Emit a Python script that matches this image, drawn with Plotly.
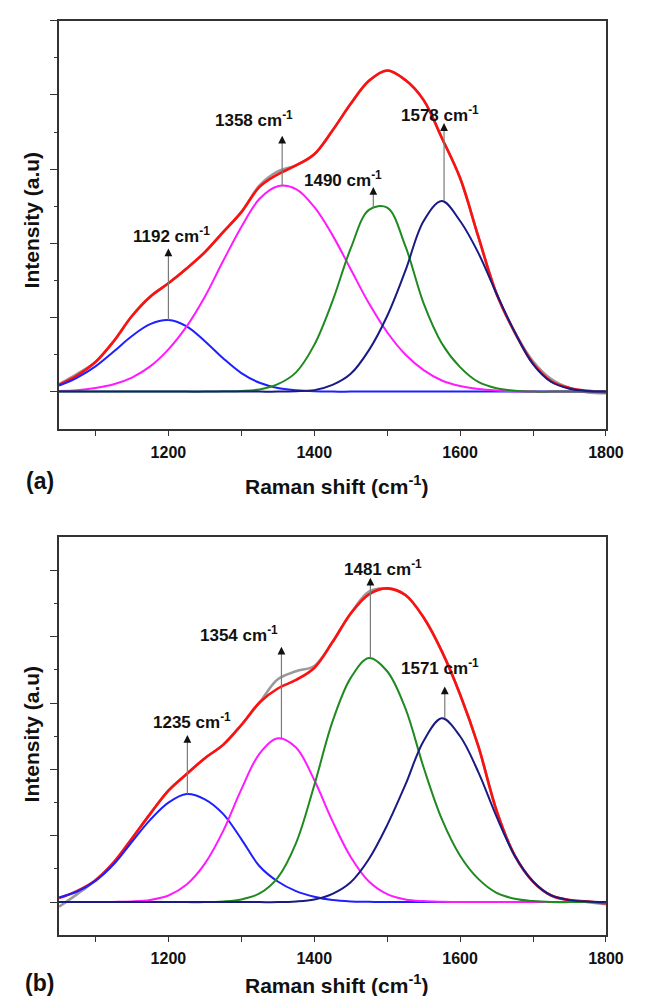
import plotly.graph_objects as go

# ---------------- data ----------------
raman_shift = [1050, 1075, 1100, 1125, 1150, 1175, 1200, 1225, 1250, 1275, 1300,
               1325, 1350, 1375, 1400, 1425, 1450, 1475, 1500, 1525, 1550, 1575,
               1600, 1625, 1650, 1675, 1700, 1725, 1750, 1775, 1800]

# panel (a)
a_data = [0.10, 0.24, 0.40, 0.68, 1.02, 1.28, 1.46, 1.66, 1.88, 2.15, 2.42,
          2.78, 2.97, 3.05, 3.20, 3.52, 3.88, 4.19, 4.33, 4.20, 3.93, 3.42,
          2.88, 2.09, 1.32, 0.80, 0.41, 0.17, 0.05, -0.01, -0.02]
a_fit = [0.09, 0.22, 0.40, 0.68, 1.02, 1.28, 1.46, 1.66, 1.88, 2.15, 2.42,
         2.76, 2.93, 3.05, 3.20, 3.52, 3.88, 4.19, 4.33, 4.20, 3.93, 3.42,
         2.88, 2.09, 1.32, 0.80, 0.38, 0.14, 0.05, 0.01, -0.01]
a_p1 = [0.08, 0.19, 0.34, 0.54, 0.75, 0.91, 0.965, 0.88, 0.68, 0.45, 0.25,
        0.12, 0.05, 0.02, 0.005, 0, 0, 0, 0, 0, 0, 0,
        0, 0, 0, 0, 0, 0, 0, 0, 0]
a_p2 = [0.01, 0.02, 0.05, 0.10, 0.19, 0.34, 0.57, 0.88, 1.28, 1.76, 2.22,
        2.60, 2.77, 2.73, 2.49, 2.11, 1.65, 1.19, 0.80, 0.50, 0.29, 0.15,
        0.075, 0.035, 0.015, 0.005, 0, 0, 0, 0, 0]
a_p3 = [0, 0, 0, 0, 0, 0, 0, 0, 0, 0.005, 0.01,
        0.03, 0.10, 0.26, 0.63, 1.22, 1.93, 2.45, 2.48, 1.96, 1.19, 0.65,
        0.33, 0.13, 0.045, 0.012, 0, 0, 0, 0, 0]
a_p4 = [0, 0, 0, 0, 0, 0, 0, 0, 0, 0, 0,
        0, 0, 0.005, 0.02, 0.09, 0.24, 0.56, 1.02, 1.63, 2.30, 2.57,
        2.30, 1.87, 1.32, 0.80, 0.37, 0.13, 0.04, 0.01, 0]
a_labels = ["1192", "1358", "1490", "1578"]
a_arrow_x = [1200, 1356, 1481, 1578]
a_arrow_tip = [1.93, 3.45, 2.76, 3.62]
a_label_x = [1204, 1318, 1440, 1572]
a_label_y = [2.11, 3.68, 2.87, 3.74]

# panel (b)
b_data = [-0.07, 0.12, 0.33, 0.60, 0.96, 1.33, 1.68, 1.93, 2.17, 2.37, 2.67,
          3.01, 3.36, 3.48, 3.56, 3.92, 4.35, 4.68, 4.73, 4.63, 4.29, 3.78,
          3.13, 2.35, 1.38, 0.70, 0.31, 0.10, 0.03, 0.0, -0.03]
b_fit = [0.06, 0.17, 0.33, 0.60, 0.96, 1.33, 1.68, 1.93, 2.17, 2.37, 2.67,
         3.01, 3.22, 3.35, 3.53, 3.92, 4.35, 4.64, 4.73, 4.63, 4.29, 3.78,
         3.13, 2.35, 1.38, 0.70, 0.31, 0.10, 0.03, 0.01, -0.02]
b_p1 = [0.07, 0.16, 0.32, 0.57, 0.91, 1.24, 1.50, 1.63, 1.55, 1.33, 0.95,
        0.54, 0.31, 0.165, 0.08, 0.03, 0.01, 0.005, 0, 0, 0, 0,
        0, 0, 0, 0, 0, 0, 0, 0, 0]
b_p2 = [0, 0, 0, 0.003, 0.01, 0.033, 0.10, 0.265, 0.58, 1.07, 1.70,
        2.24, 2.47, 2.33, 1.84, 1.22, 0.68, 0.31, 0.12, 0.04, 0.015, 0.005,
        0, 0, 0, 0, 0, 0, 0, 0, 0]
b_p3 = [0, 0, 0, 0, 0, 0, 0, 0, 0, 0.01, 0.04,
        0.13, 0.37, 0.89, 1.76, 2.72, 3.38, 3.68, 3.48, 2.92, 2.03, 1.25,
        0.70, 0.35, 0.14, 0.05, 0.015, 0, 0, 0, 0]
b_p4 = [0, 0, 0, 0, 0, 0, 0, 0, 0, 0, 0,
        0, 0, 0.01, 0.04, 0.125, 0.30, 0.65, 1.16, 1.77, 2.43, 2.77,
        2.50, 1.96, 1.29, 0.70, 0.31, 0.10, 0.03, 0.01, 0]
b_labels = ["1235", "1354", "1481", "1571"]
b_arrow_x = [1226, 1355, 1477, 1579]
b_arrow_tip = [2.52, 3.85, 4.89, 3.25]
b_label_x = [1232, 1297, 1494, 1573]
b_label_y = [2.73, 4.04, 5.03, 3.55]

x_major = [1200, 1400, 1600, 1800]
x_minor = [1100, 1300, 1500, 1700]
y_major = [0, 1, 2, 3, 4, 5]
y_minor = [0.5, 1.5, 2.5, 3.5, 4.5]

# ---------------- styling ----------------
FONT = "Liberation Sans, Arial, sans-serif"
C_DATA = "#9a9a9a"
C_FIT = "#ff1010"
C_P = ["#1f1fff", "#ff1aff", "#1f8a1f", "#1a1a85"]
AX = "#333333"

fig = go.Figure()


def add_panel(xa, ya, data, fit, comps):
    fig.add_trace(go.Scatter(x=raman_shift, y=data, mode="lines",
                             line=dict(color=C_DATA, width=2.6, shape="spline", smoothing=1),
                             xaxis=xa, yaxis=ya, hoverinfo="skip"))
    fig.add_trace(go.Scatter(x=raman_shift, y=fit, mode="lines",
                             line=dict(color=C_FIT, width=2.6, shape="spline", smoothing=1),
                             xaxis=xa, yaxis=ya))
    for comp, col in zip(comps, C_P):
        fig.add_trace(go.Scatter(x=raman_shift, y=comp, mode="lines",
                                 line=dict(color=col, width=2, shape="spline", smoothing=1),
                                 xaxis=xa, yaxis=ya))


add_panel("x", "y", a_data, a_fit, [a_p1, a_p2, a_p3, a_p4])
add_panel("x2", "y2", b_data, b_fit, [b_p1, b_p2, b_p3, b_p4])

annotations = []
shapes = []


def add_arrows(xr, yr, comps, labels, arrow_x, tips, lx, ly):
    for comp, lab, axx, tip, tx, ty in zip(comps, labels, arrow_x, tips, lx, ly):
        base = max(comp)
        shapes.append(dict(type="line", xref=xr, yref=yr, x0=axx, x1=axx,
                           y0=base, y1=tip - 0.08,
                           line=dict(color="#7a7a7a", width=1.2)))
        annotations.append(dict(xref=xr, yref=yr, axref=xr, ayref=yr,
                                x=axx, y=tip, ax=axx, ay=tip - 0.1, text="",
                                showarrow=True, arrowhead=2, arrowsize=1.3,
                                arrowwidth=1.2, arrowcolor="#111111"))
        annotations.append(dict(xref=xr, yref=yr, x=tx, y=ty,
                                text="<b>%s cm<sup>-1</sup></b>" % lab,
                                showarrow=False, xanchor="center", yanchor="middle",
                                font=dict(family=FONT, size=17, color="#111111")))


add_arrows("x", "y", [a_p1, a_p2, a_p3, a_p4], a_labels, a_arrow_x, a_arrow_tip,
           a_label_x, a_label_y)
add_arrows("x2", "y2", [b_p1, b_p2, b_p3, b_p4], b_labels, b_arrow_x, b_arrow_tip,
           b_label_x, b_label_y)

# axis titles / panel letters
for ytitle_c, xtitle_c, letter_c, letter in [(0.787, 0.5211, 0.5251, "(a)"),
                                              (0.271, 0.0201, 0.0211, "(b)")]:
    annotations.append(dict(xref="paper", yref="paper", x=0.037, y=ytitle_c,
                            text="<b>Intensity (a.u)</b>", textangle=-90,
                            showarrow=False, xanchor="center", yanchor="middle",
                            font=dict(family=FONT, size=21, color="#111111")))
    annotations.append(dict(xref="paper", yref="paper", x=0.5216, y=xtitle_c,
                            text="<b>Raman shift (cm<sup>-1</sup>)</b>",
                            showarrow=False, xanchor="center", yanchor="middle",
                            font=dict(family=FONT, size=21, color="#111111")))
    annotations.append(dict(xref="paper", yref="paper", x=0.0502, y=letter_c,
                            text="<b>%s</b>" % letter,
                            showarrow=False, xanchor="center", yanchor="middle",
                            font=dict(family=FONT, size=23, color="#111111")))


def xaxis_cfg(anchor):
    return dict(domain=[0.0810, 0.9491], range=[1050, 1800], anchor=anchor,
                tickvals=x_major, ticks="outside", ticklen=5, tickwidth=1.3,
                tickcolor=AX, showline=True, linecolor=AX, linewidth=1.6,
                mirror=True, showgrid=False, zeroline=False,
                ticklabelstandoff=3,
                tickfont=dict(family=FONT, size=16, color="#111111", weight="bold"),
                minor=dict(tickvals=x_minor, ticks="outside", ticklen=5,
                           tickwidth=1.3, tickcolor=AX))


def yaxis_cfg(anchor, dom, rng):
    return dict(domain=dom, range=rng, anchor=anchor, tickvals=y_major,
                showticklabels=False, ticks="outside", ticklen=7, tickwidth=1.3,
                tickcolor=AX, showline=True, linecolor=AX, linewidth=1.6,
                mirror=True, showgrid=False, zeroline=False,
                minor=dict(tickvals=y_minor, ticks="outside", ticklen=3,
                           tickwidth=1.3, tickcolor=AX))


fig.update_layout(
    width=648, height=996,
    margin=dict(l=0, r=0, t=0, b=0),
    paper_bgcolor="white", plot_bgcolor="white",
    showlegend=False,
    xaxis=xaxis_cfg("y"),
    yaxis=yaxis_cfg("x", [0.5776, 0.9872], [-0.5, 5]),
    xaxis2=xaxis_cfg("y2"),
    yaxis2=yaxis_cfg("x2", [0.0690, 0.4686], [-0.5, 5.5]),
    annotations=annotations,
    shapes=shapes,
)

fig.write_html("out.html")
